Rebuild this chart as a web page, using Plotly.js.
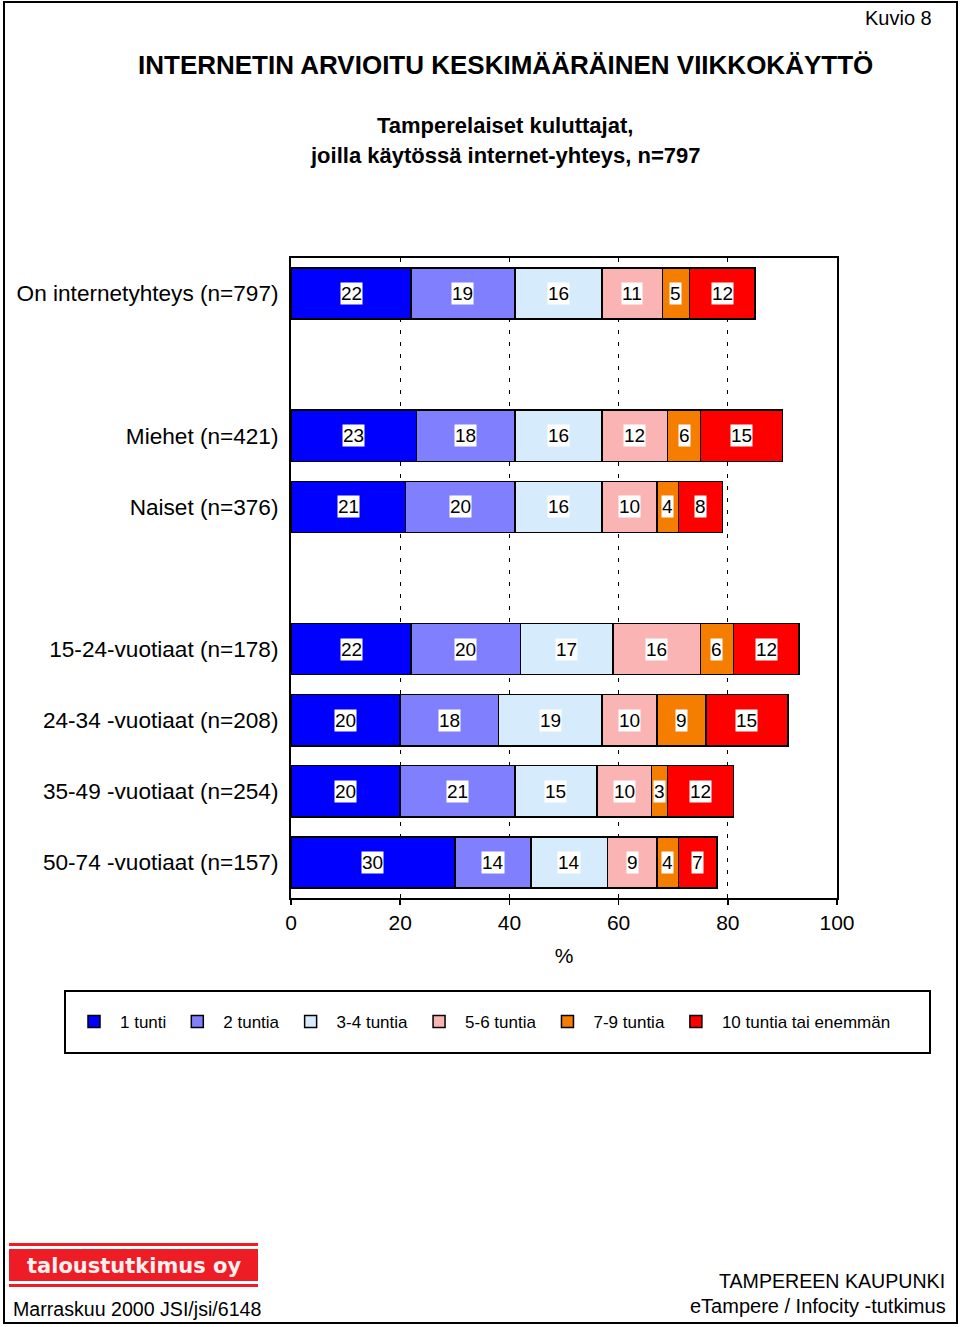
<!DOCTYPE html>
<html>
<head>
<meta charset="utf-8">
<script src="https://cdn.plot.ly/plotly-3.0.1.min.js"></script>
<style>
  html, body { margin: 0; padding: 0; background: #fff; }
  #chart { width: 960px; height: 1327px; }
</style>
</head>
<body>
<div id="chart"></div>
<script>
// ---- data ----
const categories = [
  "On internetyhteys (n=797)",
  " ",
  "Miehet (n=421)",
  "Naiset (n=376)",
  "  ",
  "15-24-vuotiaat (n=178)",
  "24-34 -vuotiaat (n=208)",
  "35-49 -vuotiaat (n=254)",
  "50-74 -vuotiaat (n=157)"
];
const seriesNames = ["1 tunti", "2 tuntia", "3-4 tuntia", "5-6 tuntia", "7-9 tuntia", "10 tuntia tai enemmän"];
const seriesColors = ["#0000FF", "#8080FF", "#D6EBFB", "#FAB4B4", "#F57D00", "#FF0000"];
// values per series, aligned with categories (null for spacer rows)
const tunti1   = [22, null, 23, 21, null, 22, 20, 20, 30];
const tuntia2  = [19, null, 18, 20, null, 20, 18, 21, 14];
const tuntia34 = [16, null, 16, 16, null, 17, 19, 15, 14];
const tuntia56 = [11, null, 12, 10, null, 16, 10, 10, 9];
const tuntia79 = [5,  null, 6,  4,  null, 6,  9,  3,  4];
const tuntia10 = [12, null, 15, 8,  null, 12, 15, 12, 7];
const xTicks = [0, 20, 40, 60, 80, 100];

const seriesValues = [tunti1, tuntia2, tuntia34, tuntia56, tuntia79, tuntia10];

// ---- traces ----
const traces = seriesValues.map((vals, i) => ({
  type: "bar",
  orientation: "h",
  name: seriesNames[i],
  y: categories,
  x: vals,
  marker: { color: seriesColors[i], line: { color: "#000", width: 1.5 } },
  hoverinfo: "x+name"
}));

// ---- value labels (white boxes), placed at segment centres in data units ----
const annotations = [];
categories.forEach((cat, ci) => {
  let cum = 0;
  seriesValues.forEach(vals => {
    const v = vals[ci];
    if (v == null) return;
    annotations.push({
      x: cum + v / 2, y: cat, xref: "x", yref: "y",
      text: String(v), showarrow: false,
      bgcolor: "#FFFFFF", borderpad: 0,
      font: { family: "Liberation Sans, Arial, sans-serif", size: 19, color: "#000" }
    });
    cum += v;
  });
});

// Page geometry (plot area = paper coordinates)
const L = 291, R = 837, T = 258, B = 898, W = 960, H = 1327;
const px = p => (p - L) / (R - L);
const py = p => (B - p) / (B - T);

const txtFont = { family: "Liberation Sans, Arial, sans-serif", color: "#000" };
function note(text, xPix, yPix, size, xanchor, extra) {
  return Object.assign({
    text, x: px(xPix), y: py(yPix), xref: "paper", yref: "paper",
    xanchor: xanchor || "center", yanchor: "middle", showarrow: false,
    font: Object.assign({}, txtFont, { size })
  }, extra || {});
}
const narrow = "Liberation Sans Narrow, Liberation Sans, Arial, sans-serif";

annotations.push(note("Kuvio 8", 934, 18, 20, "right"));
annotations.push(note("<b>INTERNETIN ARVIOITU KESKIMÄÄRÄINEN VIIKKOKÄYTTÖ</b>", 505, 65, 26, "center",
  { font: { family: narrow, size: 26, color: "#000" } }));
annotations.push(note("<b>Tamperelaiset kuluttajat,</b>", 505, 125, 22, "center",
  { font: { family: narrow, size: 22, color: "#000" } }));
annotations.push(note("<b>joilla käytössä internet-yhteys, n=797</b>", 505, 156, 22, "center",
  { font: { family: narrow, size: 22, color: "#000" } }));
annotations.push(note("Marraskuu 2000 JSI/jsi/6148", 11, 1309, 19.6, "left"));
annotations.push(note("TAMPEREEN KAUPUNKI", 947, 1281, 19.6, "right"));
annotations.push(note("eTampere / Infocity -tutkimus", 948, 1306, 20, "right"));
annotations.push(note("<b>taloustutkimus oy</b>", 134, 1266, 21, "center",
  { font: { family: "DejaVu Sans, Verdana, sans-serif", size: 21, color: "#FFF0F0" } }));

const shapes = [
  // outer page border
  { type: "rect", xref: "paper", yref: "paper", x0: px(4), x1: px(957), y0: py(2), y1: py(1323),
    line: { color: "#000", width: 2 }, fillcolor: "rgba(0,0,0,0)", layer: "below" },
  // legend box
  { type: "rect", xref: "paper", yref: "paper", x0: px(65), x1: px(930), y0: py(991), y1: py(1053),
    line: { color: "#000", width: 2 }, fillcolor: "rgba(0,0,0,0)" },
  // logo stripes
  { type: "rect", xref: "paper", yref: "paper", x0: px(9), x1: px(258), y0: py(1243), y1: py(1246),
    line: { width: 0 }, fillcolor: "#EE1C25" },
  { type: "rect", xref: "paper", yref: "paper", x0: px(9), x1: px(258), y0: py(1249), y1: py(1281),
    line: { width: 0 }, fillcolor: "#EE1C25" },
  { type: "rect", xref: "paper", yref: "paper", x0: px(9), x1: px(258), y0: py(1284), y1: py(1287),
    line: { width: 0 }, fillcolor: "#EE1C25" }
];

const layout = {
  width: W, height: H,
  margin: { l: L, r: W - R, t: T, b: H - B, pad: 0 },
  paper_bgcolor: "#fff", plot_bgcolor: "#fff",
  barmode: "stack", bargap: 0.28,
  showlegend: true,
  legend: {
    orientation: "h", traceorder: "normal",
    x: px(68), xanchor: "left", y: py(1022), yanchor: "middle",
    font: { family: "Liberation Sans, Arial, sans-serif", size: 17, color: "#000" },
    itemwidth: 42, borderwidth: 0, bgcolor: "rgba(0,0,0,0)"
  },
  xaxis: {
    range: [0, 100], tickvals: xTicks, ticktext: xTicks.map(String),
    showgrid: true, gridcolor: "#000", gridwidth: 1.2, griddash: "4px,8px",
    zeroline: false, showline: true, mirror: true, linecolor: "#000", linewidth: 2,
    ticks: "outside", ticklen: 5, tickcolor: "#000", tickwidth: 1.5,
    tickfont: { family: "Liberation Sans, Arial, sans-serif", size: 21, color: "#000" },
    title: { text: "%", standoff: 15, font: { family: "Liberation Sans, Arial, sans-serif", size: 21, color: "#000" } },
    fixedrange: true
  },
  yaxis: {
    type: "category", categoryorder: "array", categoryarray: categories,
    autorange: "reversed", showgrid: false, zeroline: false,
    showline: true, mirror: true, linecolor: "#000", linewidth: 2,
    ticks: "outside", ticklen: 6, tickcolor: "rgba(0,0,0,0)",
    tickfont: { family: "Liberation Sans, Arial, sans-serif", size: 22.6, color: "#000" },
    fixedrange: true
  },
  annotations, shapes
};

Plotly.newPlot("chart", traces, layout, { displayModeBar: false, staticPlot: true });
</script>
</body>
</html>
